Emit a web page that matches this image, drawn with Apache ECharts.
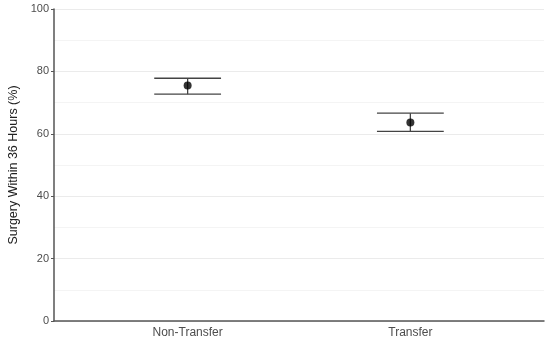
<!DOCTYPE html>
<html>
<head>
<meta charset="utf-8">
<script src="https://cdn.jsdelivr.net/npm/echarts@6/dist/echarts.min.js"></script>
<style>html,body{margin:0;padding:0;background:#fff}#c{width:550px;height:345px}</style>
</head>
<body>
<div id="c"></div>
<script>
const categories = ['Non-Transfer', 'Transfer'];
const estimates = [75.5, 63.6];
const lowerCI = [72.7, 60.8];
const upperCI = [77.8, 66.6];
const yTicks = [0, 20, 40, 60, 80, 100];
const yTitle = 'Surgery Within 36 Hours (%)';

const chart = echarts.init(document.getElementById('c'), null, {renderer: 'canvas'});
const pos = categories.map((c, i) => i + 1);
const capHalf = 0.15;

chart.setOption({
  animation: false,
  backgroundColor: '#fff',
  grid: {left: 54, right: 6, top: 9, bottom: 24, containLabel: false, outerBoundsMode: 'none'},
  xAxis: {
    type: 'value', min: 0.4, max: 2.6,
    splitLine: {show: false},
    axisLine: {show: true, onZero: false, lineStyle: {color: '#555', width: 1.5}},
    axisTick: {show: false},
    axisLabel: {
      customValues: pos,
      formatter: v => categories[Math.round(v) - 1] || '',
      color: '#4d4d4d', fontSize: 12, fontFamily: 'Liberation Sans, Arial', margin: 6
    }
  },
  yAxis: {
    type: 'value', min: 0, max: 100, interval: 20,
    name: yTitle, nameLocation: 'middle', nameGap: 34,
    nameTextStyle: {color: '#222', fontSize: 12.5, fontFamily: 'Liberation Sans, Arial'},
    axisLine: {show: true, onZero: false, lineStyle: {color: '#555', width: 1.5}},
    axisTick: {show: true, length: 3, lineStyle: {color: '#555'}},
    axisLabel: {color: '#4d4d4d', fontSize: 11, fontFamily: 'Liberation Sans, Arial', margin: 5,
      formatter: v => yTicks.includes(v) ? String(v) : ''},
    splitLine: {show: true, lineStyle: {color: '#ebebeb', width: 1}},
    minorTick: {show: false, splitNumber: 2},
    minorSplitLine: {show: true, lineStyle: {color: '#f4f4f4', width: 1}}
  },
  series: [
    {
      type: 'custom',
      data: pos.map((p, i) => [p, lowerCI[i], upperCI[i]]),
      renderItem: function (params, api) {
        const x = api.value(0), lo = api.value(1), hi = api.value(2);
        const pLo = api.coord([x, lo]), pHi = api.coord([x, hi]);
        const l1 = api.coord([x - capHalf, hi]), r1 = api.coord([x + capHalf, hi]);
        const l2 = api.coord([x - capHalf, lo]), r2 = api.coord([x + capHalf, lo]);
        const st = {stroke: '#444', lineWidth: 1.3};
        return {type: 'group', children: [
          {type: 'line', shape: {x1: pLo[0], y1: pLo[1], x2: pHi[0], y2: pHi[1]}, style: st},
          {type: 'line', shape: {x1: l1[0], y1: l1[1], x2: r1[0], y2: r1[1]}, style: st},
          {type: 'line', shape: {x1: l2[0], y1: l2[1], x2: r2[0], y2: r2[1]}, style: st}
        ]};
      },
      z: 2
    },
    {
      type: 'scatter',
      data: pos.map((p, i) => [p, estimates[i]]),
      symbol: 'circle', symbolSize: 8,
      itemStyle: {color: '#000'},
      z: 3
    }
  ]
});
</script>
</body>
</html>
